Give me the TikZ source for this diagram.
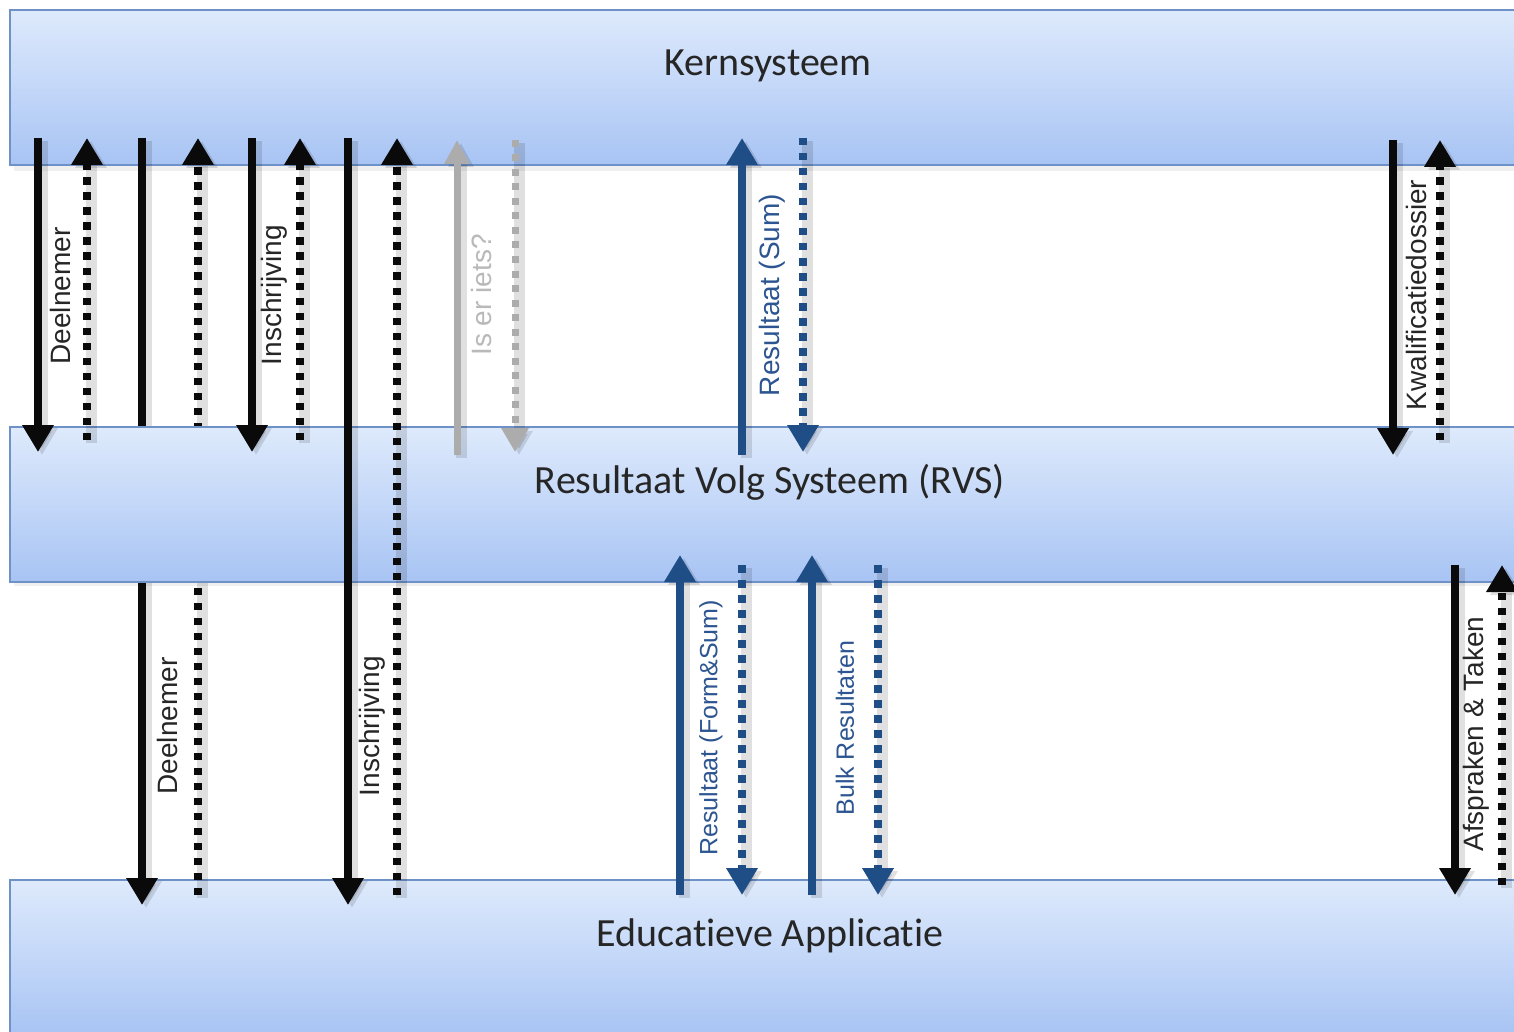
\documentclass[tikz,border=0pt]{standalone}
\usepackage{fontspec}
\setmainfont[Ligatures=NoCommon]{Liberation Sans}
\newfontfamily\bandfont[Ligatures=NoCommon]{Carlito}
\usetikzlibrary{arrows.meta}
\definecolor{bandTop}{RGB}{222,234,252}
\definecolor{bandBot}{RGB}{168,196,244}
\definecolor{bandLine}{RGB}{110,145,200}
\definecolor{arrBlue}{RGB}{31,77,134}
\definecolor{lblBlue}{RGB}{45,85,145}
\definecolor{arrGray}{RGB}{172,172,172}
\definecolor{lblGray}{RGB}{185,185,185}
\definecolor{ink}{RGB}{10,10,10}
\begin{document}
\begin{tikzpicture}[x=1pt,y=-1pt,
  band/.style={draw=bandLine, line width=1.5pt, top color=bandTop, bottom color=bandBot,
    minimum width=1540pt, minimum height=155pt, anchor=north west, inner sep=0pt, outer sep=0pt},
  bandshadow/.style={fill=black, fill opacity=0.06},
  bandtext/.style={font=\bandfont\fontsize{40}{44}\selectfont, text=black!85, inner sep=0pt},
  lbl/.style={rotate=90, font=\fontsize{28}{30}\selectfont, inner sep=0pt, text=black!85},
  lblsmall/.style={lbl, font=\fontsize{25}{27}\selectfont},
  shad/.style={preaction={draw=black, draw opacity=0.12, fill opacity=0.12, line width=11pt,
    transform canvas={shift={(4pt,-3pt)}}}},
  solidarr/.style={draw=ink, line width=8pt, -{Triangle[width=30pt,length=27pt]}},
  dotarr/.style={draw=ink, line width=7.5pt, dash pattern=on 7.5pt off 7.5pt, -{Triangle[width=30pt,length=27pt]}},
  bluearr/.style={solidarr, draw=arrBlue},
  bluedot/.style={dotarr, draw=arrBlue},
  grayarr/.style={draw=arrGray, line width=7pt, -{Triangle[width=24pt,length=24pt]}},
  graydot/.style={draw=arrGray, line width=7pt, dash pattern=on 7pt off 7.5pt, -{Triangle[width=26pt,length=24pt]}}
]
\clip (0,0) rectangle (1514,1032);
\fill[white] (0,0) rectangle (1514,1032);

% soft band shadows
\fill[bandshadow] (14,17) rectangle (1530,171);
\fill[bandshadow] (14,434) rectangle (1530,586);
\fill[bandshadow] (14,887) rectangle (1530,1040);

% bands
\node[band] (kern) at (10,10) {};
\node[band] (edu) at (10,880) {};

% long lines hidden behind the RVS band
\coordinate (a3s) at (142,138); \coordinate (a3e) at (142,905);
\coordinate (a4s) at (198,895); \coordinate (a4e) at (198,138);
\draw[solidarr, shad] (a3s) -- (a3e);
\draw[dotarr, shad] (a4s) -- (a4e);

\node[band] (rvs) at (10,427) {};

\node[bandtext] (kernt) at (768,66) {Kernsysteem};
\node[bandtext] (rvst) at (770,482) {Resultaat Volg Systeem (RVS)};
\node[bandtext] (edut) at (770,936) {Educatieve Applicatie};

% top section coordinates
\coordinate (a1s) at (38,138);  \coordinate (a1e) at (38,452);
\coordinate (a2s) at (87,440);  \coordinate (a2e) at (87,138);
\coordinate (a5s) at (252,138); \coordinate (a5e) at (252,452);
\coordinate (a6s) at (300,440); \coordinate (a6e) at (300,138);
\coordinate (a7s) at (348,138); \coordinate (a7e) at (348,905);
\coordinate (a8s) at (397,895); \coordinate (a8e) at (397,138);
\coordinate (g1s) at (457,455); \coordinate (g1e) at (457,140);
\coordinate (g2s) at (515,140); \coordinate (g2e) at (515,452);
\coordinate (b1s) at (742,455); \coordinate (b1e) at (742,138);
\coordinate (b2s) at (803,138); \coordinate (b2e) at (803,452);
\coordinate (k1s) at (1393,140); \coordinate (k1e) at (1393,455);
\coordinate (k2s) at (1440,440); \coordinate (k2e) at (1440,140);
% lower section coordinates
\coordinate (b3s) at (680,895); \coordinate (b3e) at (680,555);
\coordinate (b4s) at (742,565); \coordinate (b4e) at (742,895);
\coordinate (b5s) at (812,895); \coordinate (b5e) at (812,555);
\coordinate (b6s) at (878,565); \coordinate (b6e) at (878,895);
\coordinate (k3s) at (1455,565); \coordinate (k3e) at (1455,895);
\coordinate (k4s) at (1502,885); \coordinate (k4e) at (1502,565);

\draw[solidarr, shad] (a1s) -- (a1e);
\draw[dotarr, shad] (a2s) -- (a2e);
\draw[solidarr, shad] (a5s) -- (a5e);
\draw[dotarr, shad] (a6s) -- (a6e);
\draw[solidarr, shad] (a7s) -- (a7e);
\draw[dotarr, shad] (a8s) -- (a8e);
\draw[grayarr, shad] (g1s) -- (g1e);
\draw[graydot, shad] (g2s) -- (g2e);
\draw[bluearr, shad] (b1s) -- (b1e);
\draw[bluedot, shad] (b2s) -- (b2e);
\draw[solidarr, shad] (k1s) -- (k1e);
\draw[dotarr, shad] (k2s) -- (k2e);

\draw[bluearr, shad] (b3s) -- (b3e);
\draw[bluedot, shad] (b4s) -- (b4e);
\draw[bluearr, shad] (b5s) -- (b5e);
\draw[bluedot, shad] (b6s) -- (b6e);
\draw[solidarr, shad] (k3s) -- (k3e);
\draw[dotarr, shad] (k4s) -- (k4e);

% labels
\node[lbl] (l1) at (60,296) {Deelnemer};
\node[lbl] (l2) at (274,295) {Inschrijving};
\node[lbl, text=lblGray] (l3) at (481,295) {Is er iets?};
\node[lbl, text=lblBlue] (l4) at (772,295) {Resultaat (Sum)};
\node[lbl] (l5) at (1416,295) {Kwalificatiedossier};
\node[lbl] (l6) at (167,726) {Deelnemer};
\node[lbl] (l7) at (372,726) {Inschrijving};
\node[lblsmall, text=lblBlue] (l8) at (711,728) {Resultaat (Form\&Sum)};
\node[lblsmall, text=lblBlue] (l9) at (845,728) {Bulk Resultaten};
\node[lbl] (l10) at (1476,734) {Afspraken \& Taken};
\end{tikzpicture}
\end{document}
